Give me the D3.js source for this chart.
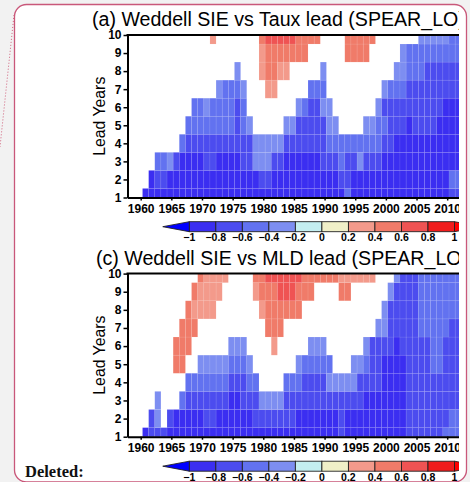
<!DOCTYPE html>
<html><head><meta charset="utf-8">
<script src="https://cdn.jsdelivr.net/npm/d3@7"></script>
<style>html,body{margin:0;padding:0;background:#f2f2f2;overflow:hidden}svg{display:block}</style>
</head><body>
<svg id="c" width="470" height="482"></svg>
<script>
// ---------------- DATA ----------------
const years = d3.range(1958, 2012);            // start-date columns 1958..2011
const leads = [1,2,3,4,5,6,7,8,9,10];          // lead years (rows)
const xTicks = [1960,1965,1970,1975,1980,1985,1990,1995,2000,2005,2010];
const yTicks = [1,2,3,4,5,6,7,8,9,10];
const levels = [-1,-0.8,-0.6,-0.4,-0.2,0,0.2,0.4,0.6,0.8,1];
const levelLabels = ["\u22121","\u22120.8","\u22120.6","\u22120.4","\u22120.2","0","0.2","0.4","0.6","0.8","1"];
const binColors = ["#0000ff","#3b2ef1","#4c4cef","#6272f0","#7d8ef1","#c4eef0","#f0f0c8","#f39a8b","#f07b69","#ef5353","#f01c1c","#ff0000"];
// correlation class code -> representative correlation ('.' = not significant)
const codeValue = {A:-0.9,B:-0.7,C:-0.5,D:-0.3,E:-0.1,F:0.1,G:0.3,H:0.5,I:0.7,J:0.9};
// rows: lead 1 .. lead 10; groups: 1958-59 | 1960s | 1970s | 1980s | 1990s | 2000s | 2010-11
const tauxRows = [
 "..|AAAAAAAAAA|AAAAAAAAAA|AAAAAAAAAA|AAACAAAAAA|AAAAAAAAAA|BB",
 "..|.ABBAAAAAA|AAAAAAAAAB|BAAAAAAAAA|AABBAAAAAA|AAAAAAAAAA|CC",
 "..|..CCDBAAAA|BBAAAABBDD|DBBAAAAAAB|BBCBBDBBBA|AAAAAAAAAA|AA",
 "..|......CBBB|BBBBBBBBDD|DDDBBBBBBB|CCCCCCCCCB|BAAAAAAAAA|AA",
 "..|.......CCC|CCCCCBCD..|...DDBBBBB|DD....DDCC|BBBABBBBAA|AA",
 "..|........CC|DCCCCBC...|.....DCBBD|D.......DB|BBBBBBBBBA|AA",
 "..|..........|..DCCCD...|GG.....CCC|.........D|CCCBBBBBBB|BB",
 "..|..........|.....D...G|HHGG.....D|..........|.DDCCCBBBB|BB",
 "..|..........|.........G|HHHHHHH...|...HHHH...|..DCCCCCCC|CC",
 "..|..........|.G.......H|IIIIIHHHH.|...HHHHH..|.....DDDDD|CC"
];
const mldRows = [
 "..|ABBBAAAAAA|AAAAAAAAAA|AAAAAAAAAA|AABAAAAAAA|AAABBBBBBC|CC",
 "..|.BD.BAAAAA|BBAAAAAABB|BBBBBAAAAA|AABAAAAAAA|AAABBBBBBB|CC",
 "..|..D...CBBB|BBBBAABBBD|DDDBBBBBBB|BBBBBBAAAA|AAABBBBBBB|BB",
 "..|.......CCC|CCCCBBBCC.|...CCCBBBB|DDDDDBBBBA|AAABBBBBBB|BB",
 "..|.....HH..D|DDDDCCCD..|.....DCCCC|C...DDCBBA|AAABBBBCCB|BB",
 "..|.....HHH..|....DDD...|.G.....DDD|......DBBB|BABBBBBCCB|BB",
 "..|......HHH.|..........|HHH.......|........DD|BBBBBCCCCC|BB",
 "..|.......HGG|GG.......G|HHHHHH....|.........D|BBBBBCCCCC|CC",
 "..|........HG|GGG.....GH|HHIIIHHH..|..HH......|DBBBBCCCCC|CC",
 "..|.........H|GGGG....HH|IIIIIIHHHH|HHGGGGGG..|.DBBBCCCCC|CC"
];
const titles = ["(a) Weddell SIE vs Taux lead (SPEAR_LO)", "(c) Weddell SIE vs MLD lead (SPEAR_LO)"];

// ---------------- DRAW ----------------
const FONT = "'Liberation Sans', Arial, Helvetica, sans-serif";
const svg = d3.select("#c");
const defs = svg.append("defs");

svg.append("rect").attr("x",14.5).attr("y",4.5).attr("width",452).attr("height",477.5).attr("rx",12)
  .attr("fill","#fff").attr("stroke","#c9587a").attr("stroke-width",1.3);
svg.append("line").attr("x1",14).attr("y1",15).attr("x2",0).attr("y2",147)
  .attr("stroke","#d0607c").attr("stroke-width",1).attr("stroke-dasharray","1,2");

defs.append("clipPath").attr("id","fig").append("rect").attr("x",0).attr("y",0).attr("width",459).attr("height",482);
const fig = svg.append("g").attr("clip-path","url(#fig)");

const color = d3.scaleThreshold().domain(levels).range(binColors);
const x = d3.scaleLinear().domain([1957.85, 2012]).range([127.5, 127.5 + 54.15*6.13]);

function panel(rows, title, titleX, top, bottom, cbTop, idx) {
  const y = d3.scaleLinear().domain([1,10]).range([bottom, top]);
  const g = fig.append("g");
  const cid = "plot" + idx;
  defs.append("clipPath").attr("id",cid).append("rect")
    .attr("x",x.range()[0]).attr("y",top).attr("width",x.range()[1]-x.range()[0]).attr("height",bottom-top);
  const cells = [];
  rows.forEach((r,i) => {
    const s = r.replace(/\|/g,"");
    s.split("").forEach((ch,j) => {
      if (ch !== ".") cells.push({year: years[j], lead: leads[i], v: codeValue[ch]});
    });
  });
  g.append("g").attr("clip-path",`url(#${cid})`).selectAll("rect").data(cells).join("rect")
    .attr("x", d => x(d.year+0.3)).attr("width", d => x(d.year+1.3)-x(d.year+0.3))
    .attr("y", d => y(d.lead+0.5)).attr("height", d => y(d.lead-0.5)-y(d.lead+0.5))
    .attr("fill", d => color(d.v))
    .attr("stroke","rgba(255,255,255,0.12)").attr("stroke-width",0.6);

  // axes
  const ax = g.append("g").attr("transform",`translate(${x.range()[0]},0)`)
    .call(d3.axisLeft(y).tickValues(yTicks).tickSize(4).tickSizeOuter(0).tickPadding(2));
  const bx = g.append("g").attr("transform",`translate(0,${bottom})`)
    .call(d3.axisBottom(x).tickValues(xTicks).tickFormat(d3.format("d")).tickSize(3).tickSizeOuter(0).tickPadding(4));
  [ax,bx].forEach(a => {
    a.select(".domain").attr("stroke","#000").attr("stroke-width",2);
    a.selectAll(".tick line").attr("stroke","#000").attr("stroke-width",1.5);
    a.selectAll(".tick text").attr("fill","#000").style("font-family",FONT).style("font-weight","bold").style("font-size","12px");
  });
  g.append("line").attr("x1",x.range()[0]-1).attr("x2",x.range()[1]).attr("y1",top).attr("y2",top)
    .attr("stroke","#000").attr("stroke-width",2);

  g.append("text").attr("transform",`translate(104.5,${(top+bottom)/2}) rotate(-90)`)
    .attr("text-anchor","middle").style("font-family",FONT).style("font-size","15.8px").text("Lead Years");
  g.append("text").attr("x",titleX).attr("y",top-9).style("font-family",FONT).style("font-size","19.6px").text(title);

  // colorbar
  const cb = d3.scaleLinear().domain([-1,1]).range([189.3, 454.5]);
  const cbH = 10, mid = cbTop + cbH/2, tri = cb(-0.8)-cb(-1);
  const cg = g.append("g");
  const boxes = d3.pairs(levels);
  cg.selectAll("rect").data(boxes).join("rect")
    .attr("x", d => cb(d[0])).attr("width", d => cb(d[1])-cb(d[0]))
    .attr("y", cbTop).attr("height", cbH)
    .attr("fill", d => color((d[0]+d[1])/2)).attr("stroke","#222").attr("stroke-width",0.9);
  cg.append("path").attr("d",`M${cb(-1)},${cbTop}L${cb(-1)-tri},${mid}L${cb(-1)},${cbTop+cbH}Z`)
    .attr("fill", color(-1.5)).attr("stroke","#222").attr("stroke-width",0.9);
  cg.append("path").attr("d",`M${cb(1)},${cbTop}L${cb(1)+tri},${mid}L${cb(1)},${cbTop+cbH}Z`)
    .attr("fill", color(1.5)).attr("stroke","#222").attr("stroke-width",0.9);
  cg.selectAll("text").data(levels).join("text")
    .attr("x", d => cb(d)).attr("y", cbTop+cbH+9.5).attr("text-anchor","middle")
    .style("font-family",FONT).style("font-weight","bold").style("font-size","10.5px")
    .text((d,i) => levelLabels[i]);
}

panel(tauxRows, titles[0], 92, 35, 197.5, 221.7, 0);
panel(mldRows, titles[1], 96, 273.6, 436.7, 461.2, 1);

svg.append("text").attr("x",25).attr("y",477).style("font-family","'Liberation Serif','Times New Roman',serif")
  .style("font-weight","bold").style("font-size","16.5px").attr("fill","#111").text("Deleted:");
</script>
</body></html>
